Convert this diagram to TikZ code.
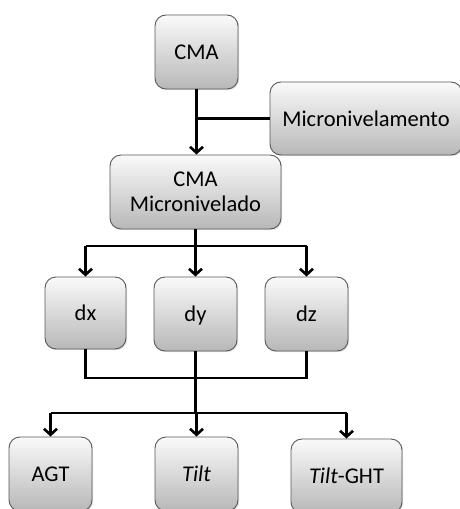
\documentclass[tikz,border=0pt]{standalone}
\usepackage{fontspec}
\setmainfont{Carlito}
\usetikzlibrary{arrows.meta,shadows}

\begin{document}
\begin{tikzpicture}[x=1pt,y=-1pt,
    box/.style={draw=black!65, line width=0.9pt, rounded corners=11pt,
      top color=white!96!gray, bottom color=black!28,
      drop shadow={opacity=0.25, shadow xshift=1.2pt, shadow yshift=-1.2pt},
      minimum height=74pt, inner sep=0pt, align=center,
      font=\fontsize{22.5}{25}\selectfont},
    link/.style={line width=2.8pt, line cap=butt},
    arr/.style={link, -{Straight Barb[length=6pt,width=13pt,line width=2.6pt]}}]
   \clip (0,0) rectangle (460,509);

   % top row
   \node[box, minimum width=83pt] (cma) at (196.5,52) {CMA};
   \node[box, minimum width=192pt, minimum height=73pt] (micro) at (366,118.5) {Micronivelamento};
   \node[box, minimum width=171pt] (cmamicro) at (195.5,192) {CMA\\Micronivelado};

   % middle row
   \node[box, minimum width=81pt, minimum height=72pt] (dx) at (85.5,313) {dx};
   \node[box, minimum width=83pt, text depth=0pt] (dy) at (195.5,314) {dy};
   \node[box, minimum width=83pt] (dz) at (306.5,314) {dz};

   % bottom row
   \node[box, minimum width=83pt] (agt) at (50.5,474) {AGT};
   \node[box, minimum width=83pt] (tilt) at (196.5,474) {\textit{Tilt}};
   \node[box, minimum width=111pt] (tiltght) at (346.5,476) {\textit{Tilt}-GHT};

   \draw[arr] (cma.south) -- (cma.south |- cmamicro.north);
   \draw[link] (micro.west) -- (micro.west -| cma.south);

   \coordinate (split) at (195.5,246);
   \draw[link] (cmamicro.south) -- (split);
   \draw[link] (split -| dx) -- (split -| dz);
   \foreach \n in {dx,dy,dz}
     \draw[arr] (split -| \n) -- (\n.north);

   \coordinate (merge) at (195.5,378);
   \coordinate (fork) at (195.5,413);
   \draw[link] (dx.south) -- (merge -| dx) -- (merge -| dz) -- (dz.south);
   \draw[link] (dy.south) -- (fork);
   \draw[link] (fork -| agt) -- (fork -| tiltght);
   \foreach \n in {agt,tilt,tiltght}
     \draw[arr] (fork -| \n) -- (\n.north);
 \end{tikzpicture}
\end{document}
